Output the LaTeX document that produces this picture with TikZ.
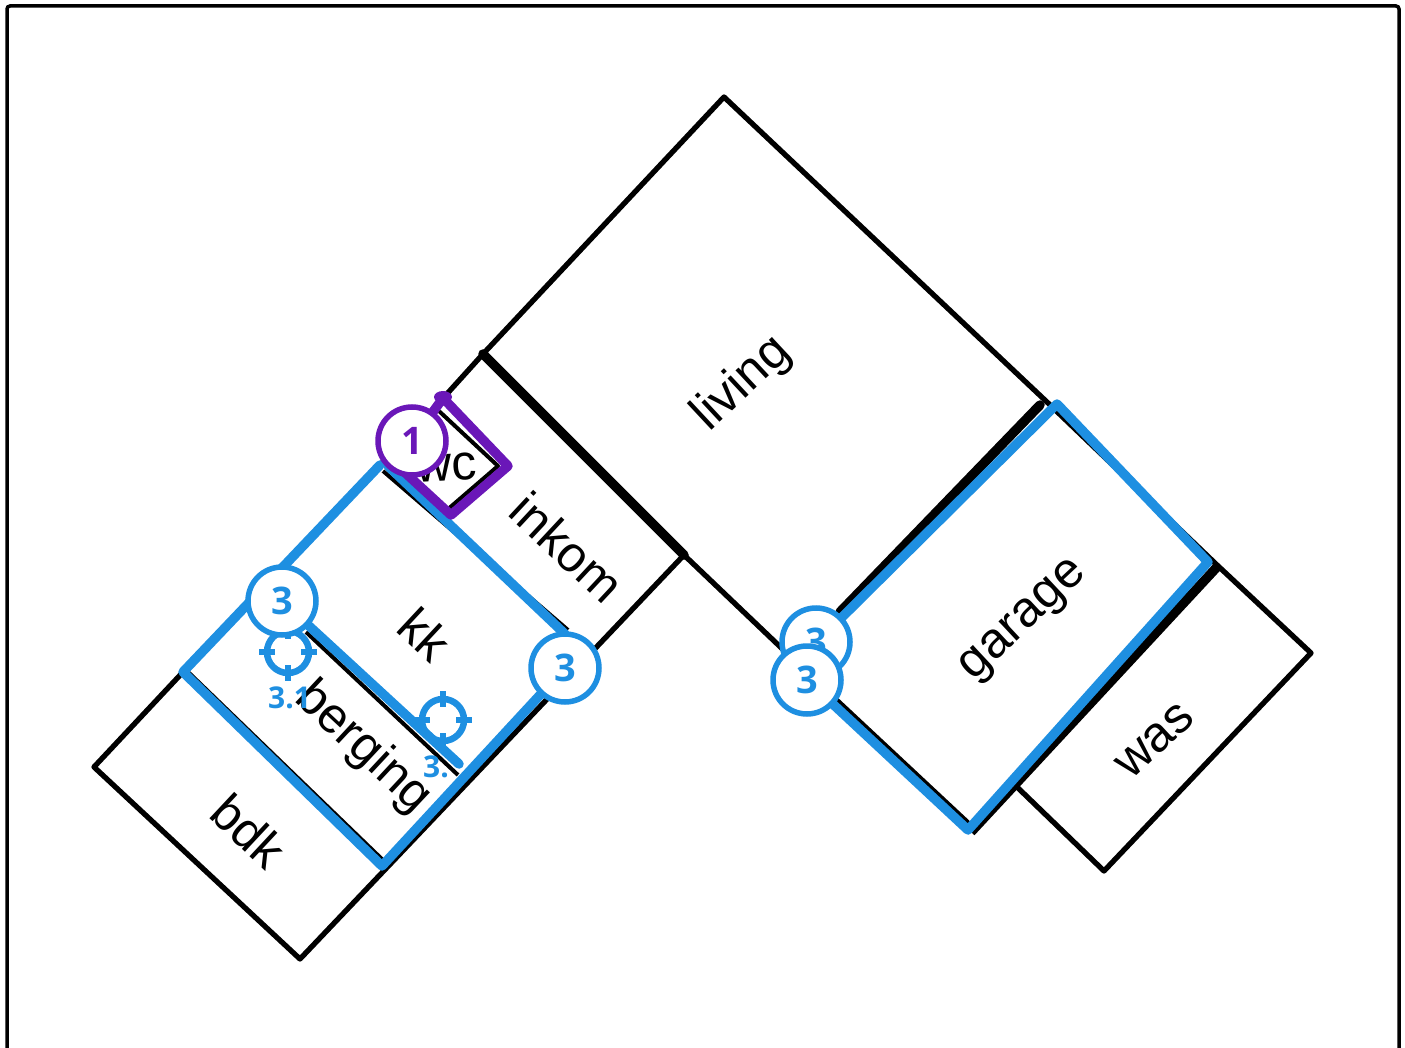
\documentclass[tikz,border=0pt]{standalone}
\usepackage{fontspec}
\setmainfont{Liberation Sans}
\newfontfamily\badgefont{Open Sans}
\definecolor{pinblue}{HTML}{1E8FE1}
\definecolor{pinpurple}{HTML}{6A17B8}
\tikzset{
 x=1pt,y=-1pt,
 wall/.style={draw=black,line width=5.3pt,line join=round,line cap=round},
 thickwall/.style={draw=black,line width=9.5pt,line cap=round},
 thinwall/.style={draw=black,line width=4pt},
 blueline/.style={draw=pinblue,line width=9.5pt,line join=round,line cap=round},
 purpleline/.style={draw=pinpurple,line width=9.5pt,line join=round,line cap=round},
 room/.style={font=\fontsize{50}{50}\selectfont,inner sep=0pt},
 badge/.style={circle,draw=#1,fill=white,line width=5.5pt,minimum size=68pt,inner sep=0pt,text=#1,font=\badgefont\bfseries\fontsize{38}{38}\selectfont},
 sublabel/.style={text=pinblue,font=\badgefont\bfseries\fontsize{30}{30}\selectfont,inner sep=0pt},
 target/.style={draw=pinblue,line width=6.5pt},
}
\newcommand{\targetmark}[1]{%
 \draw[target] (#1) circle (21pt);
 \draw[target] ([xshift=-29pt]#1) -- ([xshift=-13pt]#1);
 \draw[target] ([xshift=13pt]#1) -- ([xshift=29pt]#1);
 \draw[target] ([yshift=29pt]#1) -- ([yshift=13pt]#1);
 \draw[target] ([yshift=-13pt]#1) -- ([yshift=-29pt]#1);
}
\begin{document}
\begin{tikzpicture}
\useasboundingbox (0,0) rectangle (1405,1048);
\fill[white] (0,0) rectangle (1405,1048);
\draw[black,line width=3.5pt,rounded corners=3pt] (7,1060) -- (7,6) -- (1399,6) -- (1399,1060);
% named corners
\coordinate (top) at (724,97);
\coordinate (livL) at (483,354);
\coordinate (livB) at (684,555);
\coordinate (eR) at (1048,403);
\coordinate (wasN) at (1217,565);
\coordinate (wasE) at (1311,653);
\coordinate (wasS) at (1104,871);
\coordinate (wasW) at (1017,787);
\coordinate (garS) at (968,830);
\coordinate (garSb) at (968,823);
\coordinate (garW) at (807,680);
\coordinate (garWb) at (815,680);
\coordinate (garN) at (1057,404);
\coordinate (garE) at (1208,562);
\coordinate (garM) at (817,642);
\coordinate (wcN) at (436,406);
\coordinate (kkW) at (380,465);
\coordinate (kkWb) at (388,466);
\coordinate (kkE) at (565,634);
\coordinate (badgeE) at (565,668);
\coordinate (bdkN) at (183,672);
\coordinate (bdkW) at (94,767);
\coordinate (bdkS) at (300,959);
\coordinate (bdkE) at (382,866);
\coordinate (bergA) at (309,626);
\coordinate (bergB) at (459,764);
\coordinate (bergC) at (306,632);
\coordinate (bergD) at (458,775);
\coordinate (thickA) at (1040,405);
\coordinate (thickB) at (840,612);
\coordinate (thickC) at (1217,567);
\coordinate (thickD) at (971,832);
\coordinate (wcP1) at (443,398);
\coordinate (wcP2) at (508,466);
\coordinate (wcP3) at (451,515);
\coordinate (wcP4) at (400,468);
\coordinate (wcB1) at (440,412);
\coordinate (wcB2) at (498,466);
\coordinate (wcB3) at (447,510);
% black plan
\draw[wall] (wcN) -- (livL) -- (top) -- (eR) -- (wasN) -- (wasE) -- (wasS) -- (wasW);
\draw[wall] (garSb) -- (garWb) -- (livB);
\draw[wall] (livB) -- (bdkS) -- (bdkW) -- (bdkN) -- (kkW) -- (wcN);
\draw[thinwall] (383,471) -- (568,630);
\draw[thickwall] (livL) -- (livB);
\draw[thickwall] (thickA) -- (thickB);
\draw[thickwall,line cap=butt] (thickC) -- (thickD);
\draw[wall,line width=4pt] (wcB1) -- (wcB2) -- (wcB3);
\draw[thinwall] (185,669) -- (386,863);
% room labels
\node[room,rotate=43] (living) at (742,384) {living};
\node[room,rotate=-43] (inkom) at (567,547) {inkom};
\node[room,rotate=43] (garage) at (1025,622) {garage};
\node[room,rotate=43] (was) at (1155,741) {was};
\node[room,rotate=-43] (kk) at (425,634) {kk};
\node[room,rotate=-43] (berging) at (363,748) {berging};
\node[room,rotate=-43] (bdk) at (249,831) {bdk};
\node[room,rotate=3] (wc) at (446,468) {wc};
% blue pins
\draw[thinwall] (bergC) -- (bergD);
\draw[blueline] (kkW) -- (bdkN) -- (bdkE) -- (badgeE);
\draw[blueline] (kkWb) -- (kkE);
\draw[blueline] (bergA) -- (bergB);
\draw[blueline] (garM) -- (garN) -- (garE) -- (garS) -- (garW);
% purple pin
\draw[purpleline] (412,441) -- (wcP1) -- (wcP2) -- (wcP3) -- (wcP4);
\fill[pinpurple] (443,397) ellipse (9pt and 6pt);
% targets
\coordinate (t1) at (288,652);
\coordinate (t2) at (443,720);
\targetmark{t1}
\targetmark{t2}
\node[sublabel,anchor=west] (l1) at (268,698) {3.1};
\node[sublabel,anchor=west] (l2) at (423,767) {3.};
% badges
\node[badge=pinpurple] (b1) at (412,441) {1};
\node[badge=pinblue] (b2) at (282,601) {3};
\node[badge=pinblue] (b3) at (565,668) {3};
\node[badge=pinblue] (b4) at (816,642) {3};
\node[badge=pinblue] (b5) at (807,680) {3};
\end{tikzpicture}
\end{document}
